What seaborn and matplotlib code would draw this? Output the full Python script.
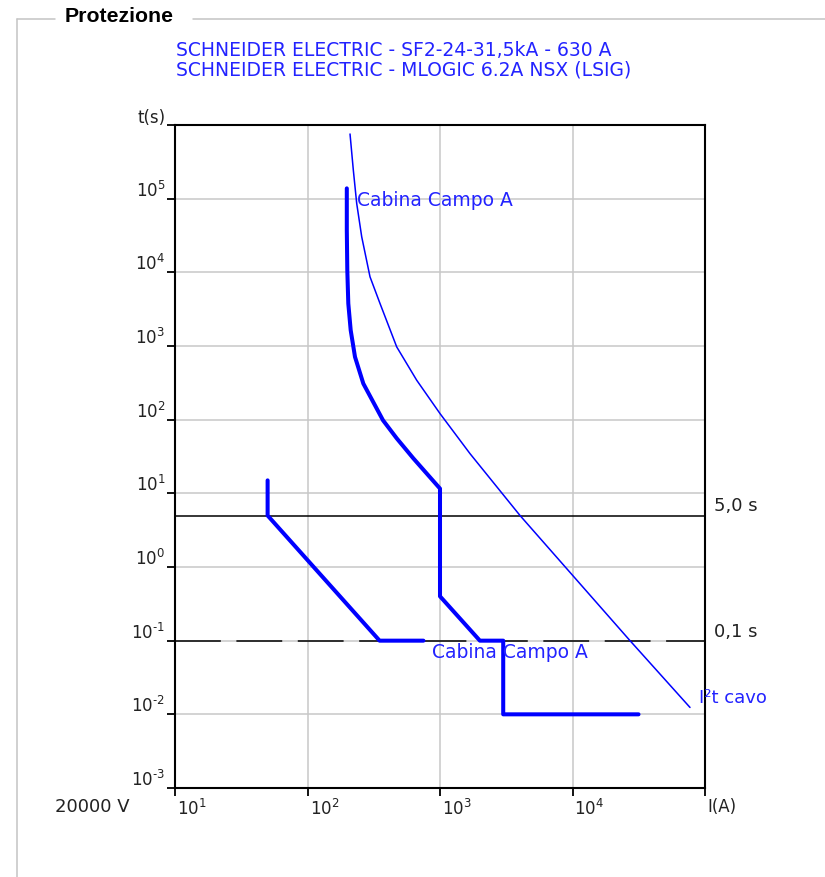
import matplotlib
matplotlib.use("Agg")
import matplotlib.pyplot as plt
import matplotlib.transforms as mtransforms
from matplotlib.lines import Line2D
from matplotlib.ticker import NullLocator
import pandas as pd
import seaborn as sns

# Cable withstand curve I²t (current in A, time in s)
cable_I = [209.4, 221.7, 235.1, 256.5, 296.3, 352.5, 471.3, 667.1, 1000, 1684, 4017, 27170, 77060]
cable_t = [7.55e5, 2.45e5, 8.63e4, 3.04e4, 8690, 3780, 972, 343, 121, 34.6, 5.0, 0.1, 0.0124]

# MLOGIC 6.2A NSX (LSIG) trip characteristic
mlogic_I = [198, 198, 199.7, 203.2, 211.8, 228.3, 263.8, 371.4, 471.3, 628.6, 1000,
            1000, 2000, 3000, 3000, 31500]
mlogic_t = [1.38e5, 3.74e4, 1.07e4, 3776, 1640, 711, 309, 98.1, 55.8, 29.9, 11.6,
            0.40, 0.1, 0.1, 0.01, 0.01]

# SF2 relay characteristic
sf2_I = [50, 50, 350, 750]
sf2_t = [15, 5, 0.1, 0.1]

# Selectivity reference times
sel_times = [5.0, 0.1]
sel_labels = ["5,0 s", "0,1 s"]

# Axis decades
x_exps = [1, 2, 3, 4, 5]
y_exps = [-3, -2, -1, 0, 1, 2, 3, 4, 5, 6]
x_unit = "I(A)"
y_unit = "t(s)"

title_lines = [
    "SCHNEIDER ELECTRIC - SF2-24-31,5kA - 630 A",
    "SCHNEIDER ELECTRIC - MLOGIC 6.2A NSX (LSIG)",
]
curve_label = "Cabina Campo A"
cable_label = "I²t cavo"
voltage_label = "20000 V"
box_title = "Protezione"

BLUE = "#0000ff"
TXT_BLUE = "#2323ff"
GRID = "#c8c8c8"
FRAME = "#c4c4c4"

sns.set_style("white")
plt.rcParams["font.family"] = ["DejaVu Sans"]
plt.rcParams["mathtext.fontset"] = "dejavusans"


def decade_label(e):
    # short hyphen for negative exponents
    exp = str(e).replace("-", "\u2010")
    return f"$10^{{{exp}}}$"


W, H = 825, 877
fig = plt.figure(figsize=(W / 100, H / 100), dpi=100)
fig.patch.set_facecolor("white")
ax = fig.add_axes([175 / W, 1 - 788 / H, 530 / W, 663 / H])

ax.set_xscale("log")
ax.set_yscale("log")
ax.set_xlim(10 ** x_exps[0], 10 ** x_exps[-1])
ax.set_ylim(10 ** y_exps[0], 10 ** y_exps[-1])

# grid and reference times
ax.set_axisbelow(True)
ax.grid(True, which="major", color=GRID, linewidth=1.1)
ax.axhline(sel_times[0], color="black", linewidth=1.1, zorder=2)
ax.axhline(sel_times[1], color="black", linewidth=1.1, zorder=2,
           linestyle=(0, (33.0 / 1.1, 11.2 / 1.1)))

# curves
cable_df = pd.DataFrame({"I": cable_I, "t": cable_t})
mlogic_df = pd.DataFrame({"I": mlogic_I, "t": mlogic_t})
sf2_df = pd.DataFrame({"I": sf2_I, "t": sf2_t})
sns.lineplot(data=cable_df, x="I", y="t", sort=False, estimator=None, ax=ax,
             color=BLUE, linewidth=1.1, zorder=4)
sns.lineplot(data=mlogic_df, x="I", y="t", sort=False, estimator=None, ax=ax,
             color=BLUE, linewidth=2.9, zorder=5)
sns.lineplot(data=sf2_df, x="I", y="t", sort=False, estimator=None, ax=ax,
             color=BLUE, linewidth=2.9, zorder=5)
ax.set_xlabel("")
ax.set_ylabel("")

# curve labels
ax.text(235, 9.3e4, curve_label, color=TXT_BLUE, fontsize=13.5, ha="left", va="center", zorder=6)
ax.text(875, 0.0698, curve_label, color=TXT_BLUE, fontsize=13.5, ha="left", va="center", zorder=6)
ax.text(90600, 0.0168, cable_label, color=TXT_BLUE, fontsize=13, ha="left", va="center", zorder=6)

# selectivity time labels to the right of the frame
for tv, lab in zip(sel_times, sel_labels):
    ax.annotate(lab, xy=(1, tv), xycoords=ax.get_yaxis_transform(),
                xytext=(6.5, 6.5), textcoords="offset points",
                ha="left", va="center", fontsize=13, color="#222222",
                annotation_clip=False)

# ticks
ax.set_xticks([10.0 ** e for e in x_exps],
              [decade_label(e) for e in x_exps[:-1]] + [x_unit])
ax.set_yticks([10.0 ** e for e in y_exps],
              [decade_label(e) for e in y_exps[:-1]] + [y_unit])
ax.xaxis.set_minor_locator(NullLocator())
ax.yaxis.set_minor_locator(NullLocator())
ax.tick_params(axis="both", which="major", direction="out", length=5.5, width=1.3,
               color="black", labelsize=12, labelcolor="#222222",
               bottom=True, left=True, top=False, right=False)
ax.tick_params(axis="x", pad=2)
ax.tick_params(axis="y", pad=1.5)

down = mtransforms.ScaledTranslation(0, -2 / 100, fig.dpi_scale_trans)
right = mtransforms.ScaledTranslation(2 / 100, 0, fig.dpi_scale_trans)
for lab in ax.get_xticklabels():
    lab.set_horizontalalignment("left")
    lab.set_transform(lab.get_transform() + right)
for lab in ax.get_yticklabels():
    lab.set_verticalalignment("bottom")
    lab.set_transform(lab.get_transform() + down)

for side in ["left", "right", "top", "bottom"]:
    ax.spines[side].set_visible(True)
    ax.spines[side].set_color("black")
    ax.spines[side].set_linewidth(1.5)

# voltage label
fig.text(130 / W, 1 - 807 / H, voltage_label, ha="right", va="center",
         fontsize=13, color="#222222")

# title lines
fig.text(176 / W, 1 - 50 / H, title_lines[0], ha="left", va="center",
         fontsize=13.5, color=TXT_BLUE)
fig.text(176 / W, 1 - 70 / H, title_lines[1], ha="left", va="center",
         fontsize=13.5, color=TXT_BLUE)

# group box
fig.add_artist(Line2D([17 / W, 17 / W], [0, 1 - 19 / H], transform=fig.transFigure,
                      color=FRAME, linewidth=1.1))
fig.add_artist(Line2D([17 / W, 55 / W], [1 - 19 / H, 1 - 19 / H], transform=fig.transFigure,
                      color=FRAME, linewidth=1.1))
fig.add_artist(Line2D([193 / W, 1.0], [1 - 19 / H, 1 - 19 / H], transform=fig.transFigure,
                      color=FRAME, linewidth=1.1))
fig.text(65 / W, 1 - 17 / H, box_title, ha="left", va="center", fontsize=15.3,
         fontweight="bold", family=["Liberation Sans", "DejaVu Sans"], color="black")

fig.savefig("out.png", dpi=100, facecolor="white")
